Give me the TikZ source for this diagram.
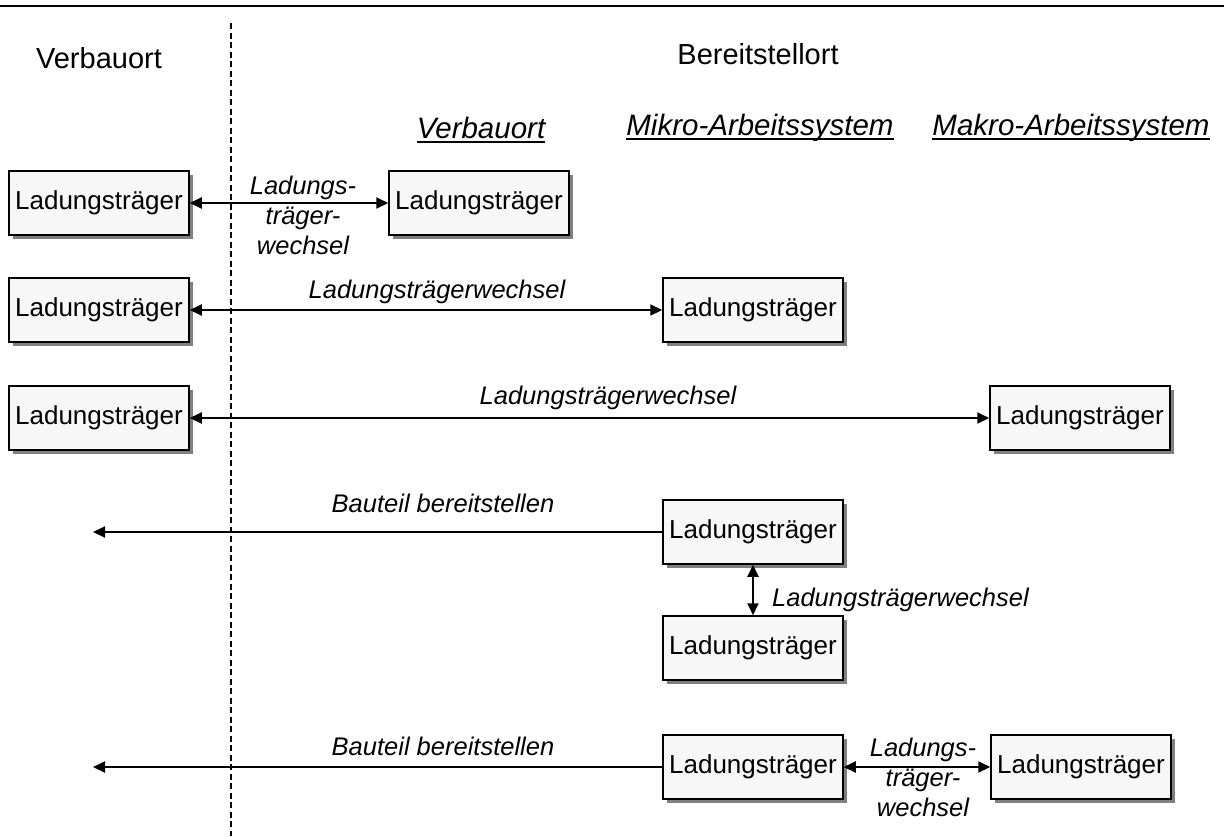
\documentclass[tikz,border=0pt]{standalone}
\usepackage{fontspec}
\setmainfont{Liberation Sans}
\usetikzlibrary{arrows.meta,shadows}
\begin{document}
\begin{tikzpicture}[x=1pt,y=-1pt,
  carrier/.style={draw=black, line width=1.5pt, fill=black!3,
    minimum width=180pt, minimum height=64pt, inner sep=0pt,
    font=\fontsize{26}{31}\selectfont,
    drop shadow={shadow xshift=4pt, shadow yshift=-4pt, fill=black!50, opacity=1}},
  head/.style={font=\fontsize{29}{34}\selectfont, inner sep=0pt},
  subhead/.style={font=\fontsize{29.5}{35}\selectfont\itshape, inner sep=0pt},
  uline/.style={line width=1.6pt},
  lbl/.style={font=\fontsize{25.5}{30}\selectfont\itshape, align=center, inner sep=0pt},
  link/.style={line width=2pt, {Triangle[length=12pt,width=11pt]}-{Triangle[length=12pt,width=11pt]}},
  supply/.style={line width=2pt, {Triangle[length=12pt,width=11pt]}-}
]
\useasboundingbox (0,0) rectangle (1224,836);

% frame rule and separator
\coordinate (tl) at (0,6);
\coordinate (tr) at (1224,6);
\draw[line width=2.5pt] (tl) -- (tr);
\coordinate (dtop) at (231,23);
\coordinate (dbot) at (231,836);
\draw[line width=1.3pt, dash pattern=on 6pt off 3.5pt] (dtop) -- (dbot);

% headings
\node[head] (hL) at (99,58) {Verbauort};
\node[head] (hR) at (758,54) {Bereitstellort};
\node[subhead] (s1) at (481,128) {Verbauort};
\node[subhead] (s2) at (760,128) {Mikro-Arbeitssystem};
\node[subhead] (s3) at (1071,128) {Makro-Arbeitssystem};
\foreach \s in {s1,s2,s3}
  \draw[uline] ([yshift=-3.5pt]\s.base west) -- ([yshift=-3.5pt]\s.base east);

% containers
\node[carrier] (a1) at (99,203) {Ladungsträger};
\node[carrier] (b1) at (479,203) {Ladungsträger};
\node[carrier] (a2) at (99,310) {Ladungsträger};
\node[carrier] (b2) at (753,310) {Ladungsträger};
\node[carrier] (a3) at (99,418) {Ladungsträger};
\node[carrier] (b3) at (1080,418) {Ladungsträger};
\node[carrier] (b4) at (753,532) {Ladungsträger};
\node[carrier] (b5) at (753,648) {Ladungsträger};
\node[carrier] (b6) at (753,767) {Ladungsträger};
\node[carrier] (c6) at (1081,767) {Ladungsträger};

% exchanges
\draw[link] (a1) -- (b1);
\node[lbl] (l1) at (303,215) {Ladungs-\\träger-\\wechsel};
\draw[link] (a2) -- (b2);
\node[lbl] (l2) at (437,292) {Ladungsträgerwechsel};
\draw[link] (a3) -- (b3);
\node[lbl] (l3) at (608,398) {Ladungsträgerwechsel};

% supply from the micro work system
\coordinate (e4) at (93,532);
\draw[supply] (e4) -- (b4);
\node[lbl] (l4) at (443,503) {Bauteil bereitstellen};
\draw[link] (b4) -- (b5);
\node[lbl, anchor=west] (l5) at (772,600) {Ladungsträgerwechsel};

\coordinate (e6) at (93,767);
\draw[supply] (e6) -- (b6);
\node[lbl] (l6) at (443,746) {Bauteil bereitstellen};
\draw[link] (b6) -- (c6);
\node[lbl] (l6b) at (923,777) {Ladungs-\\träger-\\wechsel};
\end{tikzpicture}
\end{document}
